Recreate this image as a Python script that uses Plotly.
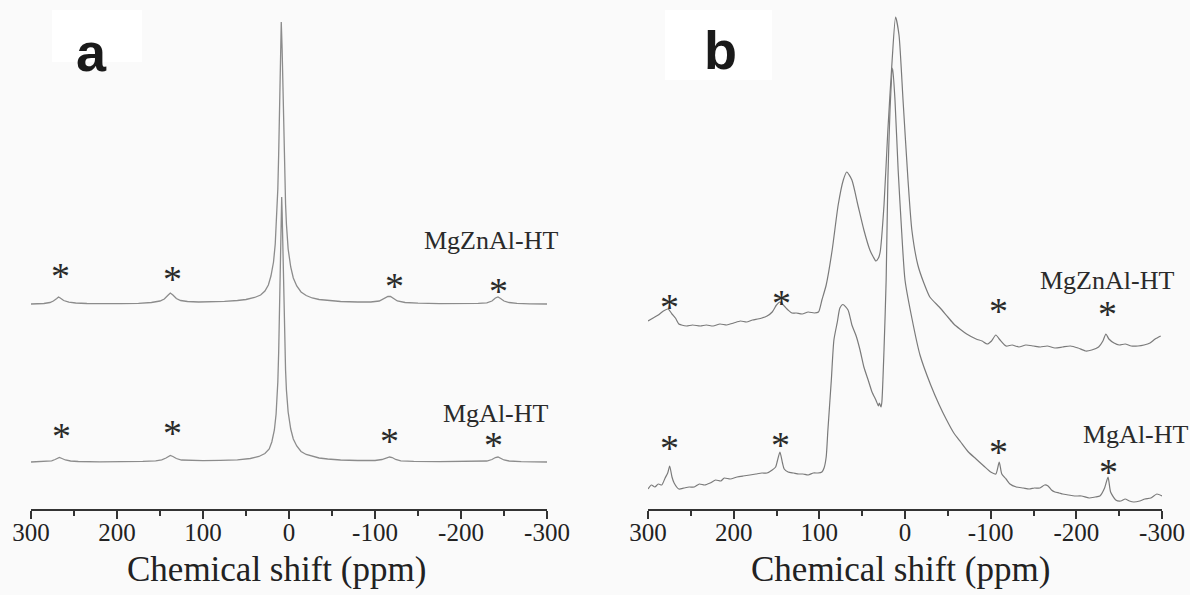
import plotly.graph_objects as go

# ---------------- spectral data (chemical shift in ppm, intensity in a.u.) ----------------
# Panel a: intensities measured from each trace's own baseline
a_zn_ppm = [300, 285, 278, 274, 270, 268, 266, 262, 256, 248, 235, 215, 195, 175, 160, 150, 145, 141,
            138, 135, 131, 126, 118, 105, 90, 75, 60, 50, 40, 33, 28, 24, 21, 18, 16, 14, 13, 12, 11,
            10, 9, 8, 7, 6, 5, 4, 3, 1, -2, -5, -9, -14, -20, -27, -35, -45, -60, -80, -95, -105,
            -111, -115, -118, -121, -126, -135, -150, -175, -200, -220, -230, -236, -240, -243,
            -246, -250, -256, -265, -280, -300]
a_zn_int = [0, 0.5, 1.5, 3, 5.5, 7, 6, 3.5, 1.8, 1, 0.5, 0.2, 0.3, 0.7, 1.5, 3, 5, 8.5,
            11, 9, 5.5, 3.5, 2.5, 2, 2.2, 2.7, 3.5, 4.5, 6.5, 9, 13, 19, 28, 42, 60, 90, 115, 150, 200,
            255, 282, 255, 210, 165, 128, 100, 80, 55, 37, 26, 18, 12, 8.5, 6, 4.5, 3.5, 2.5, 2, 2, 3,
            5.5, 7.5, 7.5, 5.5, 3, 1.5, 0.8, 0.4, 0.4, 0.6, 1.2, 3, 6, 7,
            5.5, 3, 1.5, 0.6, 0.2, 0]

a_al_ppm = [300, 285, 276, 272, 269, 267, 264, 260, 254, 245, 220, 190, 170, 155, 148, 143, 140, 138,
            135, 131, 125, 115, 100, 80, 60, 45, 35, 28, 23, 20, 17, 15, 13, 12, 11, 10, 9, 8.5, 8,
            7, 6, 5, 4, 3, 1, -2, -5, -9, -14, -20, -27, -35, -45, -60, -80, -100, -108, -113, -117,
            -120, -124, -130, -145, -175, -215, -230, -236, -240, -243, -246, -250, -256, -270, -300]
a_al_int = [0, 0.4, 1.2, 2.5, 4, 4.5, 3.5, 2, 1, 0.5, 0.2, 0.3, 0.6, 1.2, 2.2, 4, 6, 6.5,
            5.5, 3.5, 2, 1.5, 1.3, 1.6, 2.2, 3.5, 5.5, 8.5, 13, 20, 32, 48, 80, 110, 155, 210, 250, 265, 250,
            200, 155, 118, 92, 72, 50, 33, 23, 16, 10.5, 7.5, 5.5, 4, 3, 2, 1.5, 1.5, 2.5, 4, 5,
            4.5, 2.5, 1.2, 0.6, 0.3, 0.4, 1, 2.5, 4.5, 5, 4, 2, 1, 0.4, 0]

# Panel b: intensities including the rolling baseline
b_zn_ppm = [300, 294, 288, 282, 276.5, 272, 268, 264, 261, 255, 248, 239, 232, 224, 216, 208, 200,
            192, 185, 178, 172, 167, 161, 155, 150, 146, 141, 136.5, 132, 127, 120, 113, 106, 101,
            97, 92, 85, 78, 72, 68, 62, 55, 48, 41, 37, 34, 31, 29, 24.5, 20, 15, 11, 7, 2.3, -3.5,
            -8, -15, -22, -29, -40, -50, -57, -64, -72, -83, -90, -96, -101, -106, -111, -118, -125,
            -133, -141, -150, -158, -166, -175, -184, -193, -202, -211, -218, -226, -231, -234.5,
            -238, -244, -250, -257, -264, -272, -279, -286, -292, -298.5]
b_zn_int = [28, 31, 34, 38, 40, 35, 31, 25, 24, 23, 24, 23, 24, 23, 25, 24, 26,
            28, 27, 29, 30, 31, 33, 37, 44, 47, 43, 39, 36, 36, 35, 37, 36, 37,
            49, 64, 99, 144, 169, 177, 169, 144, 119, 99, 92, 88, 91, 97, 144, 219, 289, 332, 314, 249, 169,
            119, 84, 66, 52, 42, 32, 25, 20, 15, 10, 8, 5, 8, 14, 9, 3, 4,
            2, 4, 3, 2, 3, 1, 2, 3, 1, -2, -1, 2, 8, 15,
            10, 6, 4, 5, 3, 3, 4, 6, 10, 13]

b_al_ppm = [300, 296, 292, 288, 284, 280, 277, 274.7, 272, 269.5, 264, 258, 252, 246, 240, 234,
            227.5, 221, 215, 211, 204, 196, 189, 181, 174, 167, 161, 155, 151, 149, 146, 143, 141,
            136.5, 130, 124, 119, 113, 107, 101.5, 97, 94.5, 92, 90, 86, 83, 79, 76, 72.5, 66.5, 62,
            57, 52.5, 48, 43, 38.5, 34, 31, 30, 28, 27, 24.5, 22, 20, 17.5, 14.4, 11.7, 8, 4, 0, -8,
            -17.5, -30, -40, -48, -57, -65, -74, -83, -92, -100, -106, -110, -113, -118, -122.5,
            -130, -138, -145, -151, -157.5, -163, -167, -171, -175, -180, -184, -191, -198, -206,
            -215, -222, -227.5, -233, -237, -240, -246, -252, -257, -262, -267, -274, -280, -287,
            -294, -300]
b_al_int = [20, 24, 22, 25, 24, 31, 36, 43, 32, 26, 20, 21, 22, 22, 25, 24,
            26, 29, 28, 31, 30, 32, 33, 34, 35, 36, 36, 39, 42, 48, 57, 46, 40,
            37, 36, 35, 35, 34, 36, 36, 37, 41, 52, 79, 129, 169, 187, 201, 204.5, 199, 184,
            173, 159, 142, 129, 117, 109, 103, 106, 102, 107, 159, 229, 329, 399, 441, 409, 339, 279, 229, 191,
            154, 124, 104, 90, 76, 67, 57, 50, 43, 37, 35, 47, 35, 30, 25,
            22, 21, 20, 21, 21, 24, 23, 19, 17, 16, 15, 14, 13, 13,
            11, 12, 13, 21, 32, 17, 9, 8, 10, 8, 7, 8, 10, 11,
            15, 13]

# vertical offsets that stack the two spectra in each panel
A_OFFSETS = {"MgZnAl-HT": 205, "MgAl-HT": 47}
B_OFFSETS = {"MgZnAl-HT": 160, "MgAl-HT": 0}

# spinning-sideband markers (ppm, height) and sample labels
a_stars = [(266, 241), (135, 238), (-123, 231), (-244, 226),
           (264, 81), (136, 84), (-117, 76), (-238, 72)]
b_stars = [(274.7, 210), (144.3, 214), (-109.7, 206), (-236.9, 203),
           (274.7, 69), (145.9, 72), (-109.7, 65), (-237, 45)]
a_labels = [("MgZnAl-HT", -235, 269), ("MgAl-HT", -241, 96)]
b_labels = [("MgZnAl-HT", -236, 229), ("MgAl-HT", -270, 75)]

tick_vals = [300, 200, 100, 0, -100, -200, -300]
tick_text = ["300", "200", "100", "0", "-100", "-200", "-300"]

LINE_A = dict(color="#8c8c8c", width=1.3)
LINE_B = dict(color="#7a7a7a", width=1.2, shape="spline", smoothing=0.6)
SERIF = "Liberation Serif, Times New Roman, serif"
W, H = 1190, 595

fig = go.Figure()

fig.add_trace(go.Scatter(x=a_zn_ppm, y=[v + A_OFFSETS["MgZnAl-HT"] for v in a_zn_int],
                         mode="lines", line=LINE_A, xaxis="x", yaxis="y", showlegend=False))
fig.add_trace(go.Scatter(x=a_al_ppm, y=[v + A_OFFSETS["MgAl-HT"] for v in a_al_int],
                         mode="lines", line=LINE_A, xaxis="x", yaxis="y", showlegend=False))
fig.add_trace(go.Scatter(x=b_zn_ppm, y=[v + B_OFFSETS["MgZnAl-HT"] for v in b_zn_int],
                         mode="lines", line=LINE_B, xaxis="x2", yaxis="y2", showlegend=False))
fig.add_trace(go.Scatter(x=b_al_ppm, y=[v + B_OFFSETS["MgAl-HT"] for v in b_al_int],
                         mode="lines", line=LINE_B, xaxis="x2", yaxis="y2", showlegend=False))

xcommon = dict(range=[300, -300], tickvals=tick_vals, ticktext=tick_text, automargin=False,
               showline=True, linecolor="#333", linewidth=1.6, mirror=False,
               ticks="outside", ticklen=8, tickwidth=1.6, tickcolor="#333",
               minor=dict(ticks="outside", ticklen=5, tickwidth=1.5, tickcolor="#333", dtick=50,
                          tick0=0, showgrid=False),
               ticklabelstandoff=-8,
               tickfont=dict(family=SERIF, size=25, color="#222"),
               showgrid=False, zeroline=False, fixedrange=True)
ycommon = dict(range=[0, 509], domain=[86 / H, 1], visible=False, fixedrange=True,
               automargin=False)

fig.update_layout(
    width=W, height=H,
    margin=dict(l=0, r=0, t=0, b=0, autoexpand=False),
    paper_bgcolor="#fafafa", plot_bgcolor="rgba(0,0,0,0)",
    xaxis=dict(domain=[31 / W, 547 / W], anchor="y", **xcommon),
    yaxis=dict(anchor="x", **ycommon),
    xaxis2=dict(domain=[648 / W, 1162 / W], anchor="y2", **xcommon),
    yaxis2=dict(anchor="x2", **ycommon),
)

annotations = []
shapes = []

# panel letters on white patches
for letter, (x0, x1, y0, y1), cx, cy in [("a", (52, 142, 10, 62), 91, 52),
                                          ("b", (665, 772, 10, 80), 720, 50)]:
    shapes.append(dict(type="rect", xref="paper", yref="paper", layer="below",
                       x0=x0 / W, x1=x1 / W, y0=1 - y1 / H, y1=1 - y0 / H,
                       fillcolor="white", line=dict(width=0)))
    annotations.append(dict(text=f"<b>{letter}</b>", xref="paper", yref="paper",
                            x=cx / W, y=1 - cy / H, xanchor="center", yanchor="middle",
                            showarrow=False,
                            font=dict(family="Liberation Sans, Arial, sans-serif", size=54,
                                      color="#1a1a1a")))

for xr, yr, stars, labels in [("x", "y", a_stars, a_labels), ("x2", "y2", b_stars, b_labels)]:
    for px, py in stars:
        annotations.append(dict(text="*", x=px, y=py, xref=xr, yref=yr, showarrow=False,
                                xanchor="center", yanchor="middle", yshift=-8,
                                font=dict(family=SERIF, size=38, color="#2a2a2a")))
    for txt, px, py in labels:
        annotations.append(dict(text=txt, x=px, y=py, xref=xr, yref=yr, showarrow=False,
                                xanchor="center", yanchor="middle",
                                font=dict(family=SERIF, size=26, color="#2a2a2a")))

# axis titles
for cx in (276, 900):
    annotations.append(dict(text="Chemical shift (ppm)", xref="paper", yref="paper",
                            x=cx / W, y=1 - 569 / H, xanchor="center", yanchor="middle",
                            showarrow=False,
                            font=dict(family=SERIF, size=35, color="#222")))

fig.update_layout(annotations=annotations, shapes=shapes)

fig.write_html("out.html")
